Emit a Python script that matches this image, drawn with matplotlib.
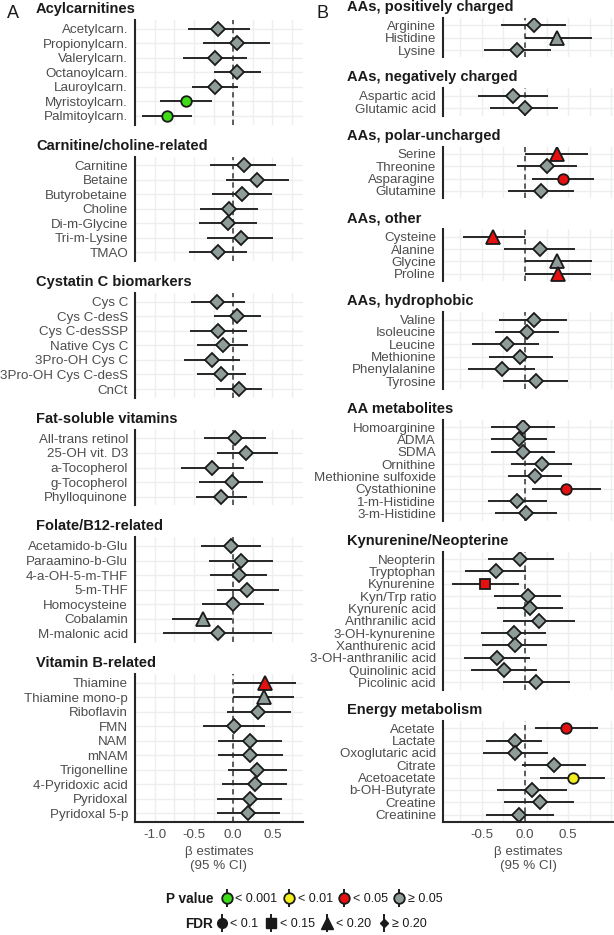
import matplotlib.pyplot as plt
from matplotlib.lines import Line2D
from matplotlib.legend_handler import HandlerTuple
import numpy as np

plt.rcParams['font.family'] = ['Liberation Sans', 'DejaVu Sans']

# ---- panel A data ----
left_groups = ['Acylcarnitines', 'Carnitine/choline-related', 'Cystatin C biomarkers',
               'Fat-soluble vitamins', 'Folate/B12-related', 'Vitamin B-related']
left_sizes = [7, 7, 7, 5, 7, 10]
left_names = ['Acetylcarn.', 'Propionylcarn.', 'Valerylcarn.', 'Octanoylcarn.', 'Lauroylcarn.',
              'Myristoylcarn.', 'Palmitoylcarn.',
              'Carnitine', 'Betaine', 'Butyrobetaine', 'Choline', 'Di-m-Glycine', 'Tri-m-Lysine', 'TMAO',
              'Cys C', 'Cys C-desS', 'Cys C-desSSP', 'Native Cys C', '3Pro-OH Cys C',
              '3Pro-OH Cys C-desS', 'CnCt',
              'All-trans retinol', '25-OH vit. D3', 'a-Tocopherol', 'g-Tocopherol', 'Phylloquinone',
              'Acetamido-b-Glu', 'Paraamino-b-Glu', '4-a-OH-5-m-THF', '5-m-THF', 'Homocysteine',
              'Cobalamin', 'M-malonic acid',
              'Thiamine', 'Thiamine mono-p', 'Riboflavin', 'FMN', 'NAM', 'mNAM', 'Trigonelline',
              '4-Pyridoxic acid', 'Pyridoxal', 'Pyridoxal 5-p']
left_est = [-0.19, 0.05, -0.23, 0.05, -0.23, -0.60, -0.84,
            0.14, 0.30, 0.11, -0.05, -0.06, 0.10, -0.19,
            -0.20, 0.05, -0.19, -0.13, -0.27, -0.15, 0.07,
            0.03, 0.17, -0.27, -0.02, -0.15,
            -0.03, 0.10, 0.07, 0.18, 0.00, -0.38, -0.19,
            0.41, 0.39, 0.32, 0.01, 0.21, 0.22, 0.31, 0.28, 0.21, 0.19]
left_low = [-0.57, -0.38, -0.64, -0.25, -0.52, -0.93, -1.16,
            -0.29, -0.09, -0.27, -0.42, -0.43, -0.33, -0.56,
            -0.54, -0.24, -0.55, -0.46, -0.62, -0.46, -0.22,
            -0.37, -0.21, -0.67, -0.43, -0.47,
            -0.41, -0.31, -0.29, -0.20, -0.40, -0.78, -0.89,
            0.01, 0.00, -0.08, -0.38, -0.19, -0.19, -0.06, -0.14, -0.20, -0.20]
left_high = [0.22, 0.47, 0.18, 0.35, 0.06, -0.27, -0.53,
             0.55, 0.71, 0.49, 0.32, 0.31, 0.51, 0.18,
             0.15, 0.35, 0.18, 0.19, 0.09, 0.17, 0.37,
             0.42, 0.57, 0.14, 0.38, 0.18,
             0.35, 0.51, 0.43, 0.58, 0.39, -0.01, 0.50,
             0.80, 0.78, 0.74, 0.41, 0.62, 0.63, 0.68, 0.69, 0.62, 0.60]
left_p = ['>=0.05'] * 43
left_p[5] = '<0.001'
left_p[6] = '<0.001'
left_p[33] = '<0.05'
left_fdr = ['>=0.20'] * 43
left_fdr[5] = '<0.1'
left_fdr[6] = '<0.1'
left_fdr[31] = '<0.20'
left_fdr[33] = '<0.20'
left_fdr[34] = '<0.20'
left_ticks = [-1.0, -0.5, 0.0, 0.5]

# ---- panel B data ----
right_groups = ['AAs, positively charged', 'AAs, negatively charged', 'AAs, polar-uncharged',
                'AAs, other', 'AAs, hydrophobic', 'AA metabolites', 'Kynurenine/Neopterine',
                'Energy metabolism']
right_sizes = [3, 2, 4, 4, 6, 8, 11, 8]
right_names = ['Arginine', 'Histidine', 'Lysine',
               'Aspartic acid', 'Glutamic acid',
               'Serine', 'Threonine', 'Asparagine', 'Glutamine',
               'Cysteine', 'Alanine', 'Glycine', 'Proline',
               'Valine', 'Isoleucine', 'Leucine', 'Methionine', 'Phenylalanine', 'Tyrosine',
               'Homoarginine', 'ADMA', 'SDMA', 'Ornithine', 'Methionine sulfoxide', 'Cystathionine',
               '1-m-Histidine', '3-m-Histidine',
               'Neopterin', 'Tryptophan', 'Kynurenine', 'Kyn/Trp ratio', 'Kynurenic acid',
               'Anthranilic acid', '3-OH-kynurenine', 'Xanthurenic acid', '3-OH-anthranilic acid',
               'Quinolinic acid', 'Picolinic acid',
               'Acetate', 'Lactate', 'Oxoglutaric acid', 'Citrate', 'Acetoacetate', 'b-OH-Butyrate',
               'Creatine', 'Creatinine']
right_est = [0.10, 0.37, -0.09,
             -0.14, 0.00,
             0.37, 0.25, 0.44, 0.18,
             -0.37, 0.17, 0.37, 0.38,
             0.10, 0.02, -0.21, -0.06, -0.27, 0.13,
             -0.02, -0.07, -0.02, 0.20, 0.12, 0.47, -0.09, 0.01,
             -0.06, -0.34, -0.46, 0.03, 0.06, 0.16, -0.13, -0.12, -0.33, -0.24, 0.13,
             0.47, -0.12, -0.12, 0.33, 0.55, 0.08, 0.17, -0.07]
right_low = [-0.28, 0.00, -0.48,
             -0.54, -0.41,
             0.00, -0.09, 0.08, -0.20,
             -0.72, -0.24, 0.00, 0.00,
             -0.30, -0.35, -0.61, -0.42, -0.66, -0.25,
             -0.39, -0.39, -0.39, -0.16, -0.20, 0.08, -0.43, -0.35,
             -0.43, -0.70, -0.85, -0.36, -0.32, -0.26, -0.51, -0.50, -0.71, -0.63, -0.26,
             0.12, -0.45, -0.49, -0.03, 0.17, -0.32, -0.24, -0.45]
right_high = [0.47, 0.77, 0.30,
              0.26, 0.38,
              0.73, 0.60, 0.80, 0.57,
              0.00, 0.58, 0.77, 0.76,
              0.48, 0.39, 0.16, 0.32, 0.12, 0.50,
              0.35, 0.25, 0.35, 0.54, 0.43, 0.88, 0.25, 0.37,
              0.33, 0.01, -0.07, 0.42, 0.44, 0.58, 0.24, 0.25, 0.06, 0.14, 0.52,
              0.84, 0.20, 0.26, 0.70, 0.92, 0.48, 0.57, 0.33]
right_p = ['>=0.05'] * 46
for i in [5, 7, 9, 12, 24, 29, 38]:
    right_p[i] = '<0.05'
right_p[42] = '<0.01'
right_fdr = ['>=0.20'] * 46
for i in [1, 5, 9, 11, 12]:
    right_fdr[i] = '<0.20'
for i in [7, 24, 38, 42]:
    right_fdr[i] = '<0.1'
right_fdr[29] = '<0.15'
right_ticks = [-0.5, 0.0, 0.5]

p_levels = ['<0.001', '<0.01', '<0.05', '>=0.05']
p_labels = ['< 0.001', '< 0.01', '< 0.05', '\u2265 0.05']
fdr_levels = ['<0.1', '<0.15', '<0.20', '>=0.20']
fdr_labels = ['< 0.1', '< 0.15', '< 0.20', '\u2265 0.20']

p_colors = {'<0.001': '#3ddc16', '<0.01': '#f2ee1c', '<0.05': '#e61010', '>=0.05': '#8e9c9a'}
fdr_markers = {'<0.1': 'o', '<0.15': 's', '<0.20': '^', '>=0.20': 'D'}
marker_size = {'o': 7.6, 's': 7.0, '^': 9.5, 'D': 6.8}

W, H = 614, 935
fig = plt.figure(figsize=(W / 100, H / 100), dpi=100)

grid_c = '#ebefee'
text_c = '#4d4d4d'
dark = '#262626'


def draw_panel(groups, sizes, names, est, low, high, pcat, fcat, ticks,
               x0, x1, top, bottom, gap, xlim, title_x):
    units = sum(n + 0.2 for n in sizes)
    unit = (bottom - top - gap * (len(sizes) - 1)) / units
    y = top
    start = 0
    ax = None
    for g, n in zip(groups, sizes):
        h = (n + 0.2) * unit
        ax = fig.add_axes([x0 / W, 1 - (y + h) / H, (x1 - x0) / W, h / H])
        sl = slice(start, start + n)
        rows = np.arange(n)
        ax.set_xticks(ticks)
        ax.set_xticks(np.arange(-1.25, 1.26, 0.25), minor=True)
        ax.set_xlim(xlim)
        ax.set_ylim(n - 0.4, -0.6)
        ax.set_yticks(rows)
        ax.set_yticklabels(names[sl])
        ax.grid(which='both', axis='x', color=grid_c, lw=1.0, zorder=0)
        ax.grid(which='major', axis='y', color=grid_c, lw=1.0, zorder=0)
        ax.set_axisbelow(True)
        ax.axvline(0, color='#333333', lw=1.1, ls=(0, (3.5, 2.5)), zorder=2)
        ax.hlines(rows, low[sl], high[sl], color=dark, lw=1.4, zorder=3)
        for r, e, pc, fc in zip(rows, est[sl], pcat[sl], fcat[sl]):
            m = fdr_markers[fc]
            ax.plot(e, r, marker=m, ms=marker_size[m], mfc=p_colors[pc], mec='#1a1a1a',
                    mew=1.3, ls='None', zorder=4)
        for s in ['top', 'right', 'bottom']:
            ax.spines[s].set_visible(False)
        ax.spines['left'].set_color(dark)
        ax.spines['left'].set_linewidth(1.5)
        ax.tick_params(axis='y', length=0, pad=5, labelsize=9.6, labelcolor=text_c)
        ax.tick_params(axis='x', which='both', length=0, labelbottom=False)
        fig.text(title_x / W, 1 - (y - 11) / H, g, fontweight='bold', fontsize=10.5,
                 va='center', ha='left', color='#1a1a1a')
        y += h + gap
        start += n
    ax.spines['bottom'].set_visible(True)
    ax.spines['bottom'].set_color(dark)
    ax.spines['bottom'].set_linewidth(1.5)
    ax.tick_params(axis='x', which='major', labelbottom=True, pad=5, labelsize=9.6,
                   labelcolor=text_c)
    ax.set_xticklabels([f'{t:.1f}' for t in ticks])
    ax.set_xlabel('\u03b2 estimates\n(95 % CI)', fontsize=9.6, color=text_c, labelpad=4,
                  linespacing=1.2)


draw_panel(left_groups, left_sizes, left_names, np.array(left_est), np.array(left_low),
           np.array(left_high), left_p, left_fdr, left_ticks,
           135, 303, 20, 822, 32, (-1.25, 0.89), 36)
draw_panel(right_groups, right_sizes, right_names, np.array(right_est), np.array(right_low),
           np.array(right_high), right_p, right_fdr, right_ticks,
           443, 614, 18, 822, 31, (-0.95, 1.03), 347)

fig.text(7 / W, 1 - 13 / H, 'A', fontsize=13, va='center', ha='left', color='#1a1a1a')
fig.text(316 / W, 1 - 13 / H, 'B', fontsize=13, va='center', ha='left', color='#1a1a1a')

# ---- legends ----
def vbar():
    return Line2D([], [], marker='|', ms=13, mew=1.4, color='#1a1a1a', ls='None')


p_handles = [(vbar(), Line2D([], [], marker='o', ms=7.6, mfc=p_colors[l], mec='#1a1a1a',
                             mew=1.3, ls='None')) for l in p_levels]
fdr_sizes = {'o': 7.0, 's': 6.5, '^': 8.0, 'D': 4.5}
fdr_handles = [(vbar(), Line2D([], [], marker=fdr_markers[l], ms=fdr_sizes[fdr_markers[l]],
                               mfc='#1a1a1a', mec='#1a1a1a', ls='None')) for l in fdr_levels]

fig.text(213 / W, 1 - 899 / H, 'P value', fontweight='bold', fontsize=9.8, ha='right',
         va='center', color='#1a1a1a')
fig.text(213 / W, 1 - 924 / H, 'FDR', fontweight='bold', fontsize=9.8, ha='right',
         va='center', color='#1a1a1a')

for hs, ls, yy, x0, cs in [(p_handles, p_labels, 899, 221, 0.45),
                           (fdr_handles, fdr_labels, 924, 216, 0.55)]:
    fig.legend(hs, ls, handler_map={tuple: HandlerTuple(ndivide=1)}, ncol=4,
               loc='center left', bbox_to_anchor=(x0 / W, 1 - yy / H), frameon=False,
               handlelength=0.9, handletextpad=0.25, columnspacing=cs, fontsize=9,
               borderpad=0, borderaxespad=0, labelcolor='#1a1a1a')

fig.savefig('out.png', dpi=100)
